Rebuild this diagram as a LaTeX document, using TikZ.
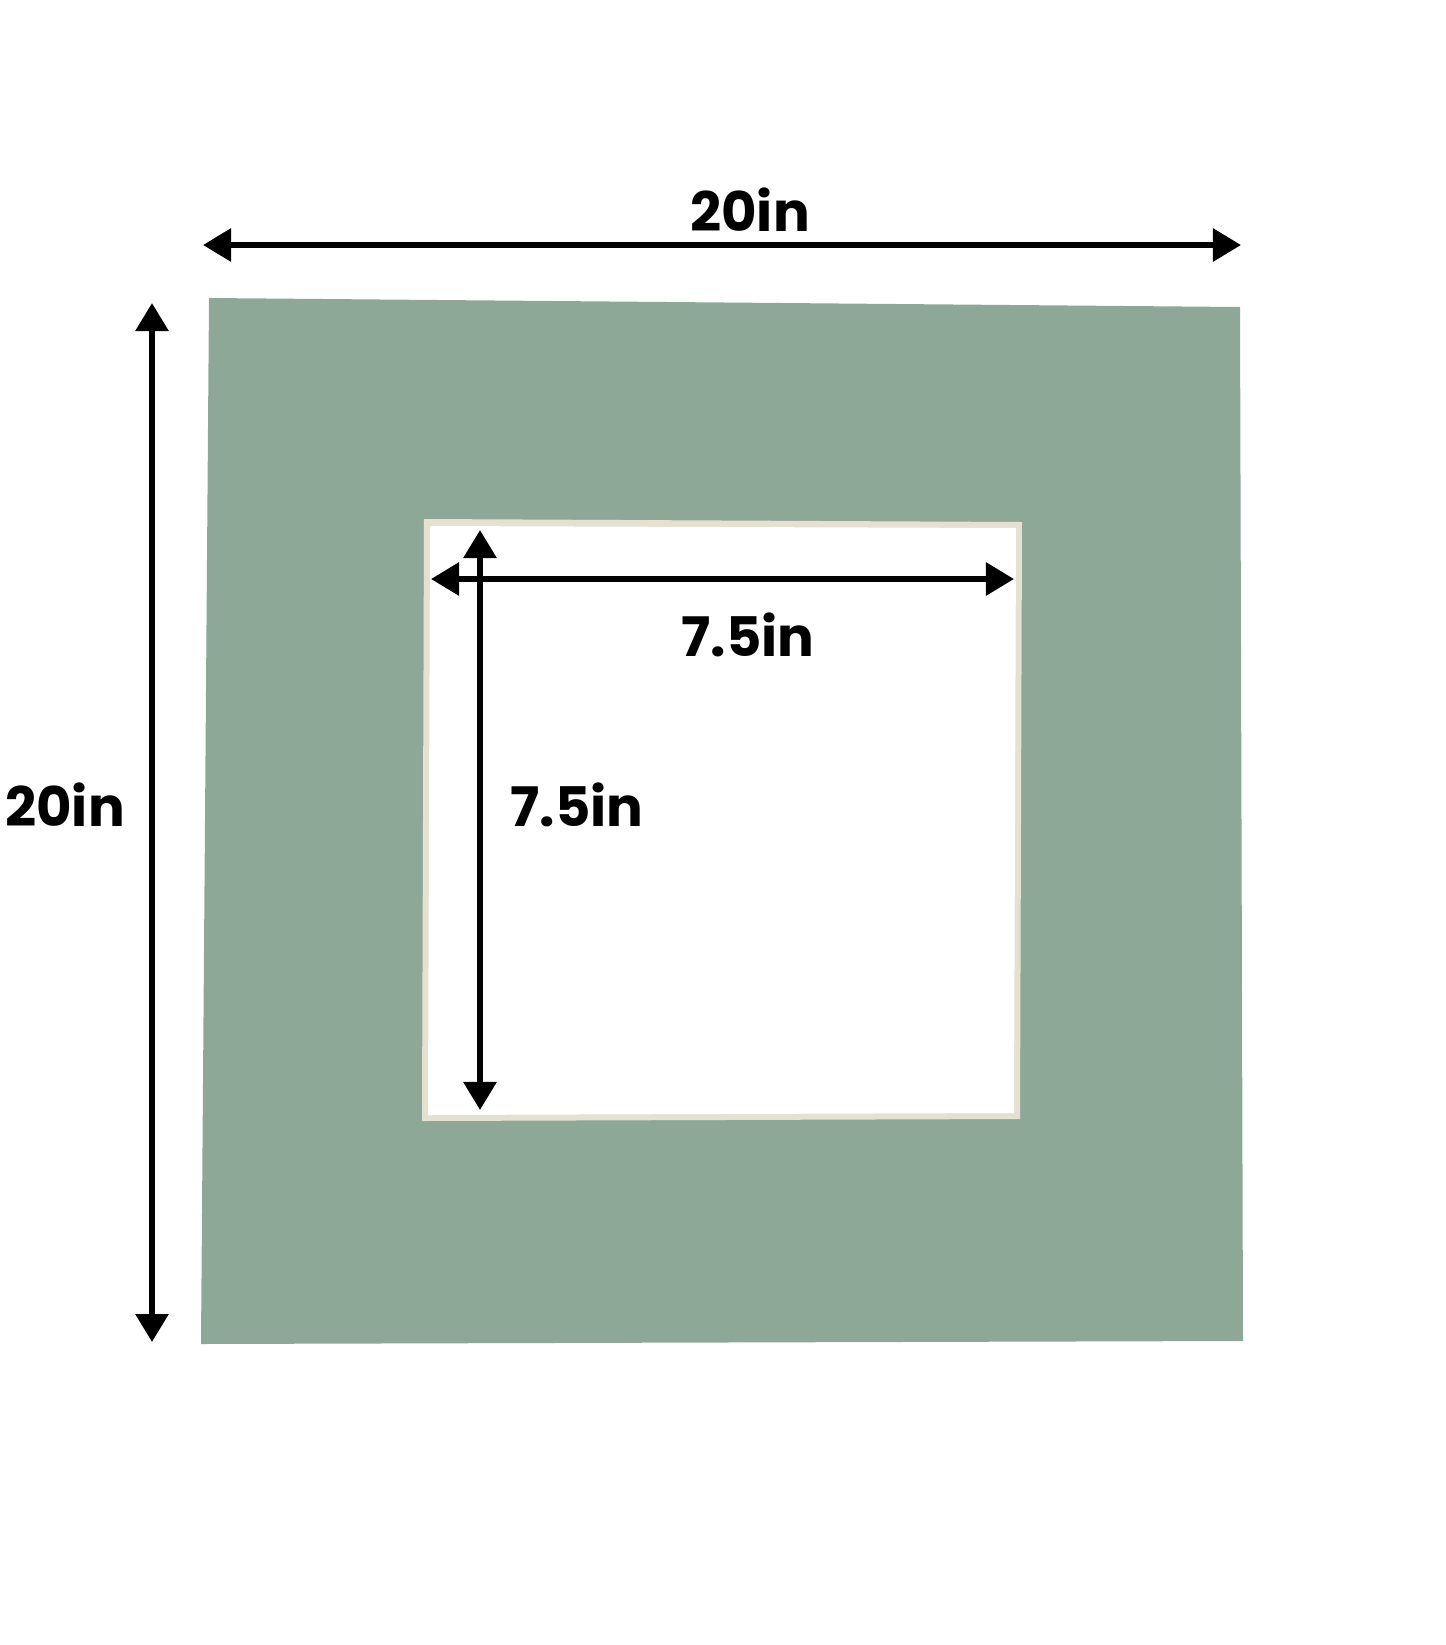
\documentclass[tikz,border=0pt]{standalone}
\usepackage{fontspec}
\setmainfont{Poppins}
\usepackage{xcolor}
\usetikzlibrary{arrows.meta}

\definecolor{matgreen}{RGB}{142,168,152}
\definecolor{bevel}{RGB}{230,224,208}

\tikzset{
    dim/.style = {line width = 1.7pt, {Triangle[length=0.28cm, width=0.32cm]}-{Triangle[length=0.28cm, width=0.32cm]}},
    size label/.style = {font = \fontsize{15.5}{18}\selectfont\bfseries, inner sep = 0pt}
}

\begin{document}
\begin{tikzpicture}[x = 0.01cm, y = -0.01cm]
            \useasboundingbox (0, 0) rectangle (1445, 1645);

            % mat board and window
            \fill[matgreen] (209, 298) -- (1240, 307) -- (1243, 1341) -- (201, 1344) -- cycle;
            \fill[bevel] (424, 519) -- (1022, 522) -- (1020, 1119) -- (422, 1121) -- cycle;
            \fill[white] (430, 526) -- (1016, 528) -- (1014, 1113) -- (428, 1115) -- cycle;

            % outer sizes
            \coordinate (topL) at (203, 245);
            \coordinate (topR) at (1241, 245);
            \coordinate (leftT) at (152, 303);
            \coordinate (leftB) at (152, 1342);
            \draw[dim] (topL) -- (topR);
            \draw[dim] (leftT) -- (leftB);
            \node[size label] (outerW) at (750, 210) {20in};
            \node[size label] (outerH) at (65, 805) {20in};

            % window sizes
            \coordinate (winL) at (431, 579);
            \coordinate (winR) at (1014, 579);
            \coordinate (winT) at (480, 530);
            \coordinate (winB) at (480, 1110);
            \draw[dim] (winL) -- (winR);
            \draw[dim] (winT) -- (winB);
            \node[size label] (innerW) at (748, 635) {7.5in};
            \node[size label] (innerH) at (577, 805) {7.5in};
        \end{tikzpicture}
\end{document}
